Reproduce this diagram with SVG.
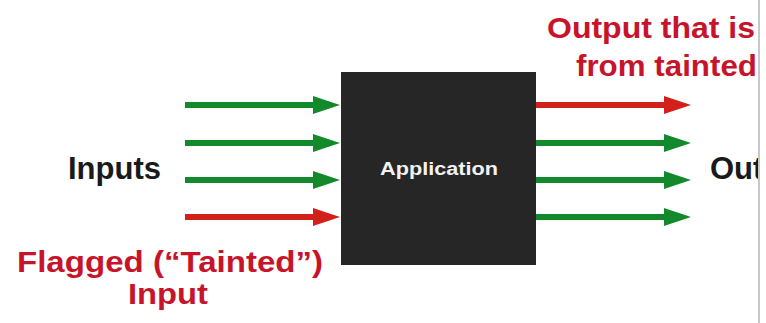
<svg xmlns="http://www.w3.org/2000/svg" width="766" height="323" viewBox="0 0 766 323">
<style>
.lbl{font-family:"Liberation Sans",Arial,sans-serif;font-weight:bold}
.red{fill:#c8142a}
.g{stroke:#128a2c;stroke-width:6}
.r{stroke:#d2201a;stroke-width:6}
.gh{fill:#128a2c}
.rh{fill:#d2201a}
</style>
<defs>
<clipPath id="clip"><rect x="0" y="0" width="758" height="323"/></clipPath>
</defs>
<rect width="766" height="323" fill="#ffffff"/>
<g clip-path="url(#clip)">
<g id="app">
<rect x="341" y="72" width="195" height="193" fill="#262626"/>
<text class="lbl" x="439" y="175" font-size="18" fill="#f2f2f2" text-anchor="middle" textLength="118" lengthAdjust="spacingAndGlyphs">Application</text>
</g>
<g id="connectors">
<line class="g" x1="185" y1="105" x2="316" y2="105"/><polygon class="gh" points="313,96 340,105 313,114"/>
<line class="g" x1="185" y1="143" x2="316" y2="143"/><polygon class="gh" points="313,134 340,143 313,152"/>
<line class="g" x1="185" y1="180" x2="316" y2="180"/><polygon class="gh" points="313,171 340,180 313,189"/>
<line class="r" x1="185" y1="217" x2="316" y2="217"/><polygon class="rh" points="313,208 340,217 313,226"/>
<line class="r" x1="536" y1="105" x2="667" y2="105"/><polygon class="rh" points="664,96 691,105 664,114"/>
<line class="g" x1="536" y1="143" x2="667" y2="143"/><polygon class="gh" points="664,134 691,143 664,152"/>
<line class="g" x1="536" y1="180" x2="667" y2="180"/><polygon class="gh" points="664,171 691,180 664,189"/>
<line class="g" x1="536" y1="217" x2="667" y2="217"/><polygon class="gh" points="664,208 691,217 664,226"/>
</g>
<g id="inputs"><text class="lbl" x="68" y="179" font-size="31" fill="#1a1a1a">Inputs</text></g>
<g id="outputs"><text class="lbl" x="710" y="179" font-size="31" fill="#1a1a1a">Out</text></g>
<g id="tainted-out">
<text class="lbl red" x="547" y="38" font-size="30" textLength="208" lengthAdjust="spacingAndGlyphs">Output that is</text>
<text class="lbl red" x="576" y="76" font-size="30" textLength="181" lengthAdjust="spacingAndGlyphs">from tainted</text>
</g>
<g id="tainted-in">
<text class="lbl red" x="17" y="272" font-size="30" textLength="306" lengthAdjust="spacingAndGlyphs">Flagged (“Tainted”)</text>
<text class="lbl red" x="128" y="304" font-size="30" textLength="80" lengthAdjust="spacingAndGlyphs">Input</text>
</g>
</g>
<line x1="759" y1="0" x2="759" y2="323" stroke="#c8c8c8" stroke-width="2"/>
</svg>
